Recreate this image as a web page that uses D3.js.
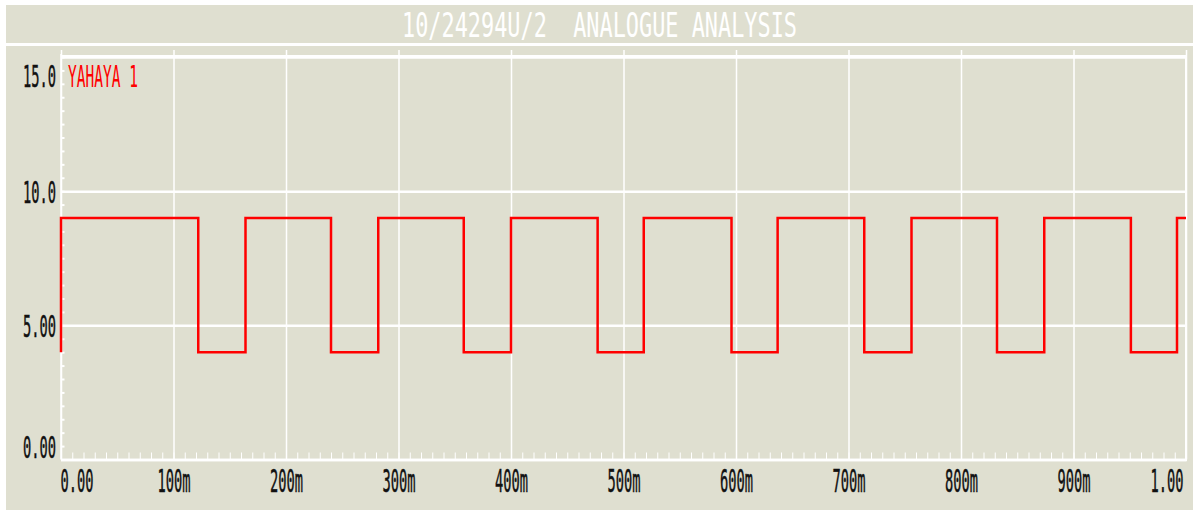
<!DOCTYPE html>
<html>
<head>
<meta charset="utf-8">
<script src="https://cdn.jsdelivr.net/npm/d3@7"></script>
<style>
  body { margin: 0; background: #ffffff; }
  text { font-family: "DejaVu Sans Mono", monospace; }
</style>
</head>
<body>
<div class="chart"></div>
<script>
var title = "10/24294U/2  ANALOGUE ANALYSIS";
var seriesName = "YAHAYA 1";

// switching instants (s) and the level (V) held from each one
var times = [0, 0, 0.122, 0.164, 0.240, 0.282, 0.358, 0.400, 0.477, 0.518,
             0.596, 0.637, 0.714, 0.756, 0.832, 0.874, 0.951, 0.992, 1.0];
var volts = [4.0, 9.0, 4.0, 9.0, 4.0, 9.0, 4.0, 9.0, 4.0, 9.0,
             4.0, 9.0, 4.0, 9.0, 4.0, 9.0, 4.0, 9.0, 9.0];

var xTicks = [0, 0.1, 0.2, 0.3, 0.4, 0.5, 0.6, 0.7, 0.8, 0.9, 1.0];
var xTickLabels = ["0.00", "100m", "200m", "300m", "400m", "500m", "600m", "700m", "800m", "900m", "1.00"];
var yTicks = [0, 5, 10, 15];
var yTickLabels = ["0.00", "5.00", "10.0", "15.0"];

var svgWidth = 1193;
var svgHeight = 510;
var bg = "#dfdfd0";
var plot = {left: 61, right: 1186, top: 57, bottom: 459.5};

var svg = d3.select(".chart")
  .append("svg")
  .attr("width", svgWidth)
  .attr("height", svgHeight)
  .style("display", "block");

// panel + banner
svg.append("rect")
  .attr("x", 6).attr("y", 5)
  .attr("width", svgWidth - 6).attr("height", svgHeight - 5)
  .attr("fill", bg);

svg.append("line")
  .attr("x1", 6).attr("x2", svgWidth)
  .attr("y1", 44.5).attr("y2", 44.5)
  .attr("stroke", "#fff").attr("stroke-width", 3);

svg.append("text")
  .attr("x", 402).attr("y", 37)
  .attr("textLength", 395).attr("lengthAdjust", "spacingAndGlyphs")
  .style("white-space", "pre")
  .attr("font-size", 34)
  .attr("fill", "#fff")
  .text(title);

var x = d3.scaleLinear().domain([0, 1]).range([plot.left, plot.right]);
var y = d3.scaleLinear().domain([0, 15]).range([plot.bottom, plot.top]);

// minor ticks
svg.append("g")
  .attr("transform", `translate(0,${plot.bottom})`)
  .call(d3.axisBottom(x).tickValues(x.ticks(100)).tickSize(-7).tickFormat(""))
  .call(g => g.select(".domain").remove())
  .selectAll("line").attr("stroke", "#fff").attr("stroke-width", 1);

svg.append("g")
  .attr("transform", `translate(${plot.left},0)`)
  .call(d3.axisLeft(y).tickValues(y.ticks(30)).tickSize(-3.5).tickFormat(""))
  .call(g => g.select(".domain").remove())
  .selectAll("line").attr("stroke", "#fff").attr("stroke-width", 2);

// x grid + labels
var xAxis = svg.append("g")
  .attr("transform", `translate(0,${plot.bottom})`)
  .call(d3.axisBottom(x)
    .tickValues(xTicks)
    .tickSize(-(plot.bottom - 50))
    .tickFormat((d, i) => xTickLabels[i]));
xAxis.select(".domain").remove();
xAxis.selectAll("line").attr("stroke", "#fff").attr("stroke-width", 1.5);
xAxis.selectAll("text")
  .attr("y", 32.5).attr("dy", null)
  .attr("font-size", 32)
  .attr("fill", "#111")
  .attr("stroke", "#111").attr("stroke-width", 0.5)
  .attr("textLength", 33).attr("lengthAdjust", "spacingAndGlyphs")
  .attr("text-anchor", (d, i) => i == 0 ? "start" : (i == xTicks.length - 1 ? "end" : "middle"))
  .attr("x", (d, i) => i == 0 ? -1 : (i == xTicks.length - 1 ? -3 : 0));

// y grid + labels
var yAxis = svg.append("g")
  .attr("transform", `translate(${plot.left},0)`)
  .call(d3.axisLeft(y)
    .tickValues(yTicks)
    .tickSize(-(plot.right - plot.left))
    .tickFormat((d, i) => yTickLabels[i]));
yAxis.select(".domain").remove();
yAxis.selectAll("line").attr("stroke", "#fff").attr("stroke-width", 2.5);
yAxis.selectAll("text")
  .attr("x", -5).attr("dy", null)
  .attr("y", d => Math.min(Math.max(11, plot.top + 29 - y(d)), plot.bottom - 2.5 - y(d)))
  .attr("font-size", 30)
  .attr("fill", "#111")
  .attr("stroke", "#111").attr("stroke-width", 0.5)
  .attr("textLength", 33).attr("lengthAdjust", "spacingAndGlyphs")
  .attr("text-anchor", "end");

// frame
svg.append("line")
  .attr("x1", plot.left).attr("x2", plot.left)
  .attr("y1", 54).attr("y2", plot.bottom)
  .attr("stroke", "#fff").attr("stroke-width", 1.5);
svg.append("line")
  .attr("x1", plot.right).attr("x2", plot.right)
  .attr("y1", 55).attr("y2", plot.bottom)
  .attr("stroke", "#fff").attr("stroke-width", 2);
svg.append("line")
  .attr("x1", plot.left).attr("x2", plot.right + 1)
  .attr("y1", 56).attr("y2", 56)
  .attr("stroke", "#fff").attr("stroke-width", 2);
svg.append("line")
  .attr("x1", plot.left).attr("x2", plot.right + 1)
  .attr("y1", 460).attr("y2", 460)
  .attr("stroke", "#fff").attr("stroke-width", 2.5);

// trace
var line = d3.line()
  .x(d => x(d[0]))
  .y(d => y(d[1]))
  .curve(d3.curveStepAfter);

svg.append("path")
  .datum(d3.zip(times, volts))
  .attr("d", line)
  .attr("fill", "none")
  .attr("stroke", "#ff0000")
  .attr("stroke-width", 2.5);

svg.append("text")
  .attr("x", 68).attr("y", 87)
  .attr("font-size", 30)
  .attr("textLength", 70).attr("lengthAdjust", "spacingAndGlyphs")
  .style("white-space", "pre")
  .attr("fill", "#ff0000")
  .text(seriesName);
</script>
</body>
</html>
